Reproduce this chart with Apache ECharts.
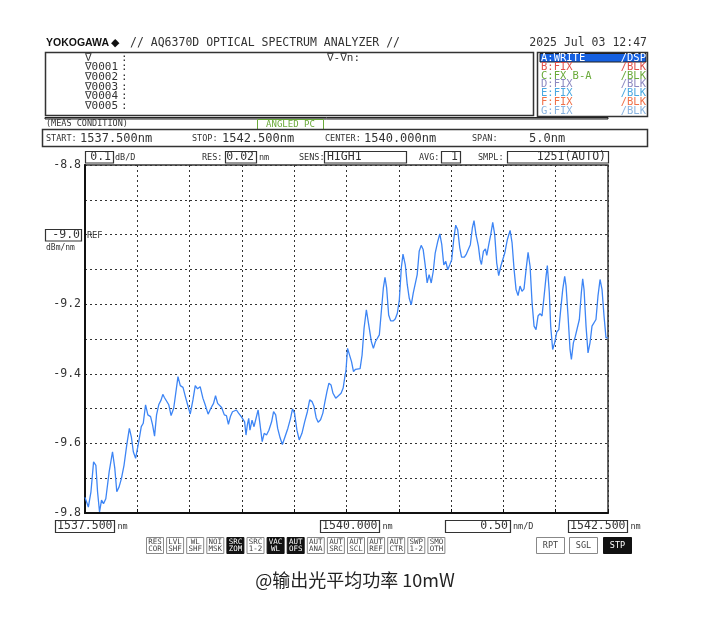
<!DOCTYPE html>
<html>
<head>
<meta charset="utf-8">
<script src="https://cdn.jsdelivr.net/npm/echarts@6/dist/echarts.min.js"></script>
<style>
  html, body { margin: 0; padding: 0; background: #fff; }
  #chart { width: 710px; height: 621px; }
</style>
</head>
<body>
<div id="chart"></div>
<script>
// trace A (nm, dBm/nm)
const wavelengths = [
  1537.500, 1537.509, 1537.532, 1537.557, 1537.582, 1537.604, 1537.620, 1537.639, 1537.658, 1537.677,
  1537.699, 1537.731, 1537.763, 1537.785, 1537.804, 1537.826, 1537.848, 1537.873, 1537.899, 1537.924,
  1537.943, 1537.962, 1537.984, 1538.000, 1538.019, 1538.038, 1538.057, 1538.079, 1538.101, 1538.127,
  1538.146, 1538.165, 1538.184, 1538.206, 1538.228, 1538.244, 1538.259, 1538.278, 1538.301, 1538.323,
  1538.348, 1538.367, 1538.389, 1538.411, 1538.437, 1538.459, 1538.481, 1538.506, 1538.532, 1538.554,
  1538.576, 1538.601, 1538.627, 1538.649, 1538.677, 1538.703,
  1538.729, 1538.748, 1538.768, 1538.787, 1538.806, 1538.832, 1538.852, 1538.871, 1538.890, 1538.910,
  1538.929, 1538.948, 1538.968, 1538.994, 1539.013, 1539.026, 1539.039, 1539.052, 1539.065, 1539.077,
  1539.097, 1539.116, 1539.135, 1539.155, 1539.174, 1539.194, 1539.213, 1539.235, 1539.258, 1539.284,
  1539.303, 1539.323, 1539.342, 1539.365, 1539.387, 1539.413, 1539.439, 1539.465, 1539.484, 1539.503,
  1539.526, 1539.548, 1539.574, 1539.600, 1539.626, 1539.648, 1539.671, 1539.690, 1539.710, 1539.729,
  1539.752, 1539.774, 1539.794, 1539.813, 1539.832, 1539.852, 1539.871, 1539.897, 1539.923, 1539.948,
  1539.968, 1539.987,
  1539.994, 1540.010, 1540.029, 1540.048, 1540.067, 1540.086, 1540.105, 1540.130, 1540.149, 1540.168,
  1540.190, 1540.213, 1540.238, 1540.257, 1540.276, 1540.295, 1540.314, 1540.333, 1540.352, 1540.368,
  1540.384, 1540.403, 1540.422, 1540.448, 1540.467, 1540.486, 1540.505, 1540.524, 1540.540, 1540.562,
  1540.581, 1540.600, 1540.619, 1540.638, 1540.657, 1540.676, 1540.695, 1540.714, 1540.733, 1540.752,
  1540.771, 1540.790, 1540.810, 1540.829, 1540.848, 1540.873, 1540.892, 1540.911, 1540.930, 1540.949,
  1540.968, 1540.987, 1541.006, 1541.025, 1541.044, 1541.063, 1541.083, 1541.100, 1541.127, 1541.146,
  1541.165, 1541.184, 1541.203, 1541.219, 1541.238,
  1541.245, 1541.261, 1541.277, 1541.290, 1541.309, 1541.328, 1541.341, 1541.360, 1541.379, 1541.398,
  1541.417, 1541.436, 1541.455, 1541.475, 1541.494, 1541.513, 1541.538, 1541.564, 1541.583, 1541.602,
  1541.621, 1541.640, 1541.659, 1541.678, 1541.697, 1541.717, 1541.736, 1541.755, 1541.774, 1541.793,
  1541.812, 1541.831, 1541.850, 1541.869, 1541.889, 1541.908, 1541.920, 1541.939, 1541.952, 1541.971,
  1541.990, 1542.010, 1542.030, 1542.048, 1542.067, 1542.086, 1542.099, 1542.118, 1542.137, 1542.150,
  1542.169, 1542.188, 1542.207, 1542.226, 1542.245, 1542.258, 1542.271, 1542.290, 1542.309, 1542.328,
  1542.347, 1542.366, 1542.385, 1542.404, 1542.424, 1542.443, 1542.462, 1542.481, 1542.500
];
const power = [
  -9.755, -9.759, -9.783, -9.739, -9.653, -9.663, -9.739, -9.797, -9.763, -9.773,
  -9.759, -9.682, -9.624, -9.672, -9.739, -9.725, -9.701, -9.663, -9.605, -9.557,
  -9.581, -9.624, -9.643, -9.638, -9.586, -9.552, -9.542, -9.489, -9.518, -9.523,
  -9.547, -9.579, -9.518, -9.488, -9.475, -9.459, -9.468, -9.465, -9.489, -9.520,
  -9.499, -9.494, -9.408, -9.434, -9.439, -9.465, -9.489, -9.516, -9.475, -9.434,
  -9.443, -9.437, -9.470, -9.489, -9.516, -9.499,
  -9.485, -9.463, -9.485, -9.480, -9.497, -9.518, -9.520, -9.545, -9.523, -9.509,
  -9.513, -9.504, -9.513, -9.523, -9.528, -9.538, -9.576, -9.547, -9.528, -9.562,
  -9.533, -9.552, -9.528, -9.504, -9.547, -9.595, -9.571, -9.576, -9.562, -9.538,
  -9.509, -9.518, -9.557, -9.584, -9.603, -9.580, -9.557, -9.528, -9.501, -9.513,
  -9.562, -9.590, -9.571, -9.538, -9.509, -9.475, -9.480, -9.494, -9.526, -9.539,
  -9.532, -9.513, -9.480, -9.451, -9.427, -9.432, -9.456, -9.470, -9.463, -9.456,
  -9.441, -9.403,
  -9.394, -9.327, -9.332, -9.365, -9.394, -9.387, -9.385, -9.385, -9.346, -9.269,
  -9.216, -9.260, -9.308, -9.327, -9.308, -9.312, -9.288, -9.221, -9.154, -9.123,
  -9.154, -9.231, -9.248, -9.248, -9.242, -9.226, -9.188, -9.096, -9.056, -9.087,
  -9.144, -9.183, -9.202, -9.168, -9.163, -9.115, -9.048, -9.031, -9.043, -9.087,
  -9.139, -9.115, -9.139, -9.106, -9.053, -9.019, -8.998, -9.029, -9.087, -9.077,
  -9.101, -9.087, -9.072, -9.014, -8.973, -8.986, -9.038, -9.065, -9.065, -9.056,
  -9.058, -9.029, -8.981, -8.960, -9.000,
  -9.010, -9.033, -9.072, -9.086, -9.048, -9.041, -9.060, -9.029, -9.000, -8.965,
  -9.000, -9.081, -9.118, -9.091, -9.086, -9.053, -9.014, -8.988, -9.024, -9.100,
  -9.158, -9.175, -9.148, -9.163, -9.156, -9.100, -9.051, -9.091, -9.196, -9.263,
  -9.273, -9.234, -9.227, -9.234, -9.177, -9.120, -9.089, -9.167, -9.263, -9.330,
  -9.311, -9.280, -9.273, -9.215, -9.158, -9.120, -9.148, -9.234, -9.330, -9.359,
  -9.311, -9.292, -9.287, -9.244, -9.167, -9.127, -9.158, -9.263, -9.340, -9.311,
  -9.263, -9.258, -9.244, -9.177, -9.129, -9.158, -9.234, -9.297, -9.297
];

const yLabelValues = [-8.8, -9.2, -9.4, -9.6, -9.8];
const refLevel = '-9.0';
const xLabels = ['1537.500', '1540.000', '1542.500'];
const spanPerDiv = '0.50';
const markerRows = ['∇', '∇0001', '∇0002', '∇0003', '∇0004', '∇0005'];
const traceRows = [
  ['A:WRITE', '/DSP'], ['B:FIX', '/BLK'], ['C:FX B-A', '/BLK'], ['D:FIX', '/BLK'],
  ['E:FIX', '/BLK'], ['F:FIX', '/BLK'], ['G:FIX', '/BLK']
];
const traceColors = ['#ffffff', '#e0504a', '#6aaa3a', '#8c88c0', '#4aa8e0', '#f07048', '#8ab4e0'];
const softKeys = [
  'RES\nCOR', 'LVL\nSHF', 'WL\nSHF', 'NOI\nMSK', 'SRC\nZOM', 'SRC\n1-2', 'VAC\nWL', 'AUT\nOFS',
  'AUT\nANA', 'AUT\nSRC', 'AUT\nSCL', 'AUT\nREF', 'AUT\nCTR', 'SWP\n1-2', 'SMO\nOTH'
];
const darkKeys = ['SRC\nZOM', 'VAC\nWL', 'AUT\nOFS'];
const caption = '@输出光平均功率 10mW';

const MONO = '"DejaVu Sans Mono", monospace';
const INK = '#222';

function txt(x, y, s, size, color, align, extra) {
  return {
    type: 'text', x: x, y: y, silent: true,
    style: Object.assign({
      text: s, fontSize: size, fontFamily: MONO, fill: color || INK,
      align: align || 'left', verticalAlign: 'middle'
    }, extra || {})
  };
}
function box(x, y, w, h, stroke, fill, lw) {
  return {
    type: 'rect', silent: true,
    shape: { x: x, y: y, width: w, height: h },
    style: { fill: fill || 'none', stroke: stroke || INK, lineWidth: lw || 1 }
  };
}

const g = [];
// header
g.push(txt(46, 43, 'YOKOGAWA', 10.5, '#111', 'left', { fontFamily: '"Liberation Sans", sans-serif', fontWeight: 'bold' }));
g.push(txt(111, 43, '◆', 11, '#111', 'left', { fontFamily: '"DejaVu Sans", sans-serif' }));
g.push(txt(130, 43, '// AQ6370D OPTICAL SPECTRUM ANALYZER //', 11.5, '#333'));
g.push(txt(647, 43, '2025 Jul 03 12:47', 11.5, '#333', 'right'));

// marker box
g.push(box(45.5, 52.5, 488, 63, '#333', null, 1.5));
markerRows.forEach(function (m, i) {
  g.push(txt(85, 58 + i * 9.6, m, 11, '#333'));
  g.push(txt(121, 58 + i * 9.6, ':', 11, '#333'));
});
g.push(txt(327, 58, '∇-∇n:', 11, '#333'));

// trace list box
g.push(box(537.5, 52.5, 110, 64, '#333', null, 1.5));
g.push(box(540, 53.5, 106, 8.5, null, '#1560e0', 0));
traceRows.forEach(function (r, i) {
  g.push(txt(541, 58 + i * 8.9, r[0], 10.5, traceColors[i]));
  g.push(txt(646, 58 + i * 8.9, r[1], 10.5, traceColors[i], 'right'));
});
g.push(box(45, 117.5, 563, 1.5, null, '#bbb', 0));

// measurement condition
g.push(txt(46, 124, '(MEAS CONDITION)', 8.5, '#333'));
g.push(box(257.5, 119.5, 66, 10, '#6aaa3a', '#fff', 1));
g.push(txt(290.5, 124.5, 'ANGLED PC', 9, '#6aaa3a', 'center'));
g.push(box(42.5, 129.5, 605, 17, '#333', null, 1.5));
g.push(txt(46, 139, 'START:', 8.5, '#333'));
g.push(txt(80, 138.5, '1537.500nm', 12, '#333'));
g.push(txt(192, 139, 'STOP:', 8.5, '#333'));
g.push(txt(222, 138.5, '1542.500nm', 12, '#333'));
g.push(txt(325, 139, 'CENTER:', 8.5, '#333'));
g.push(txt(364, 138.5, '1540.000nm', 12, '#333'));
g.push(txt(472, 139, 'SPAN:', 8.5, '#333'));
g.push(txt(529, 138.5, '5.0nm', 12, '#333'));

// setting row above the plot
g.push(box(85.5, 151.5, 28, 11.5, '#333', null, 1.2));
g.push(txt(111, 157.5, '0.1', 11.5, '#333', 'right'));
g.push(txt(115, 157.5, 'dB/D', 8.5, '#333'));
g.push(txt(202, 157.5, 'RES:', 8.5, '#333'));
g.push(box(225.5, 151.5, 31, 11.5, '#333', null, 1.2));
g.push(txt(254, 157.5, '0.02', 11.5, '#333', 'right'));
g.push(txt(259, 157.5, 'nm', 8.5, '#333'));
g.push(txt(299, 157.5, 'SENS:', 8.5, '#333'));
g.push(box(324.5, 151.5, 82, 11.5, '#333', null, 1.2));
g.push(txt(327, 157.5, 'HIGH1', 11.5, '#333'));
g.push(txt(419, 157.5, 'AVG:', 8.5, '#333'));
g.push(box(441.5, 151.5, 19, 11.5, '#333', null, 1.2));
g.push(txt(458, 157.5, '1', 11.5, '#333', 'right'));
g.push(txt(478, 157.5, 'SMPL:', 8.5, '#333'));
g.push(box(507.5, 151.5, 101, 11.5, '#333', null, 1.2));
g.push(txt(606, 157.5, '1251(AUTO)', 11.5, '#333', 'right'));

// reference level
g.push(box(45.5, 229.5, 36, 11.5, '#333', null, 1.2));
g.push(txt(80, 235.5, refLevel, 11.5, '#333', 'right'));
g.push(txt(87, 235.5, 'REF', 8.5, '#333'));
g.push(txt(46, 248, 'dBm/nm', 8, '#333'));

// wavelength labels under the plot
[[55.5, xLabels[0]], [320.5, xLabels[1]], [568.5, xLabels[2]]].forEach(function (p) {
  g.push(box(p[0], 520.5, 59, 12, '#333', null, 1.2));
  g.push(txt(p[0] + 57, 526.5, p[1], 11.5, '#333', 'right'));
  g.push(txt(p[0] + 62, 527, 'nm', 8.5, '#333'));
});
g.push(box(445.5, 520.5, 65, 12, '#333', null, 1.2));
g.push(txt(508, 526.5, spanPerDiv, 11.5, '#333', 'right'));
g.push(txt(513, 527, 'nm/D', 8.5, '#333'));

// soft keys
softKeys.forEach(function (k, i) {
  const x = 146.5 + i * 20.1;
  const dark = darkKeys.indexOf(k) >= 0;
  g.push(box(x, 537.5, 17, 16, dark ? '#111' : '#888', dark ? '#111' : '#fff', 1));
  g.push(txt(x + 8.5, 545.5, k, 7.5, dark ? '#fff' : '#444', 'center', { lineHeight: 7.5 }));
});
[['RPT', 536.5, false], ['SGL', 569.5, false], ['STP', 603.5, true]].forEach(function (k) {
  g.push(box(k[1], 537.5, 28, 16, k[2] ? '#111' : '#888', k[2] ? '#111' : '#fff', 1));
  g.push(txt(k[1] + 14, 545.5, k[0], 8.5, k[2] ? '#fff' : '#444', 'center'));
});

// caption
g.push(txt(355, 580, caption, 18, '#222', 'center', { fontFamily: '"Noto Sans CJK SC", "Noto Sans", sans-serif' }));

const gridLine = { color: '#333', type: [2, 3], width: 1 };

const chart = echarts.init(document.getElementById('chart'));
chart.setOption({
  animation: false,
  backgroundColor: '#fff',
  grid: { left: 85, top: 165, width: 523, height: 348, show: true, borderColor: '#333', borderWidth: 1.5 },
  xAxis: {
    type: 'value', min: 1537.5, max: 1542.5, interval: 0.5,
    axisLabel: { show: false },
    axisLine: { lineStyle: { color: '#111', width: 2 } },
    axisTick: { inside: true, length: 4, lineStyle: { color: '#111' } },
    splitLine: { lineStyle: gridLine }
  },
  yAxis: {
    type: 'value', min: -9.8, max: -8.8, interval: 0.1,
    axisLine: { show: true, lineStyle: { color: '#111', width: 2 } },
    axisTick: { show: false },
    axisLabel: {
      margin: 4, color: '#333', fontSize: 11.5, fontFamily: MONO,
      formatter: function (v) {
        return yLabelValues.some(function (t) { return Math.abs(t - v) < 1e-6; }) ? v.toFixed(1) : '';
      }
    },
    splitLine: { lineStyle: gridLine }
  },
  series: [{
    type: 'line',
    data: wavelengths.map(function (w, i) { return [w, power[i]]; }),
    showSymbol: false,
    smooth: false,
    lineStyle: { color: '#3d85f5', width: 1.3 }
  }],
  graphic: g
});
</script>
</body>
</html>
